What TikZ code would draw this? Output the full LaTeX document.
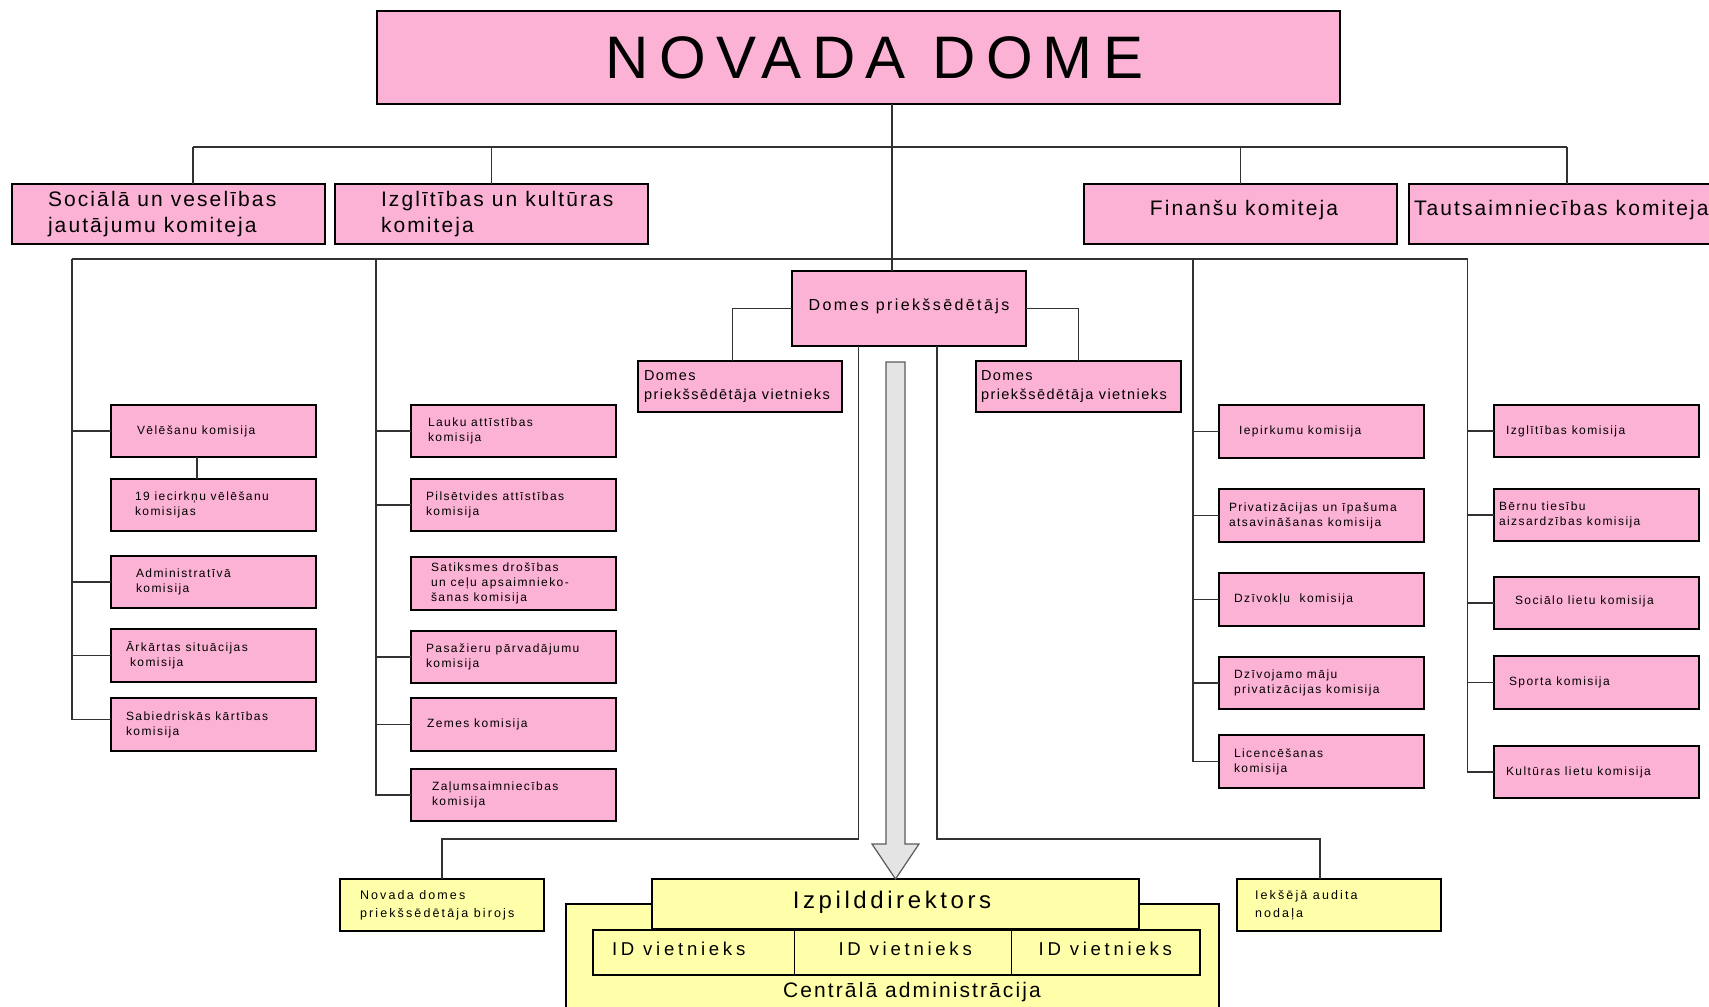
\documentclass[tikz,border=0pt]{standalone}
\usepackage{fontspec}
\setmainfont{Liberation Sans}
\newfontfamily\fTen[LetterSpace=10]{Liberation Sans}
\newfontfamily\fTwelve[LetterSpace=12]{Liberation Sans}
\newfontfamily\fFifteen[LetterSpace=15]{Liberation Sans}
\newfontfamily\fSeventeen[LetterSpace=17]{Liberation Sans}
\newfontfamily\fTwenty[LetterSpace=20]{Liberation Sans}
\definecolor{pinkc}{RGB}{252,178,212}
\definecolor{yelc}{RGB}{255,255,170}
\definecolor{linec}{RGB}{50,50,50}
\definecolor{arrfill}{RGB}{228,228,228}
\definecolor{arrline}{RGB}{90,90,90}
\tikzset{
  pinkbox/.style={draw=black, line width=0.8pt, fill=pinkc, outer sep=0pt, inner sep=0pt},
  yelbox/.style={draw=black, line width=0.8pt, fill=yelc, outer sep=0pt, inner sep=0pt},
  conn/.style={draw=linec, line width=0.6pt},
  arrowst/.style={draw=arrline, fill=arrfill, line width=0.6pt, line join=miter},
  txt/.style={inner sep=0pt, outer sep=0pt, align=left, text=black},
  tTitle/.style={font={\fSeventeen\fontsize{30}{35}\selectfont}},
  tCom/.style={font={\fTen\fontsize{10.5}{12.85}\selectfont}},
  tChair/.style={font={\fFifteen\fontsize{8}{10}\selectfont}},
  tVice/.style={font={\fTen\fontsize{7.25}{9.2}\selectfont}},
  tSmall/.style={font={\fTwelve\fontsize{6}{7.5}\selectfont}},
  tYel/.style={font={\fSeventeen\fontsize{6.25}{9.2}\selectfont}},
  tIzp/.style={font={\fFifteen\fontsize{12}{14}\selectfont}},
  tID/.style={font={\fTwenty\fontsize{9.3}{11}\selectfont}},
  tCentr/.style={font={\fTen\fontsize{10.5}{12}\selectfont}},
}
% box with left-aligned text: name, style, x1, y1, x2, y2, inset(px), text, text style
\newcommand\mkbox[9]{%
  \pgfmathsetmacro\mybw{(#5-#3)*0.5}%
  \pgfmathsetmacro\mybh{(#6-#4)*0.5}%
  \pgfmathsetmacro\mybi{#7*0.5}%
  \node[#2, anchor=north west, minimum width=\mybw pt, minimum height=\mybh pt] (#1) at (#3,#4) {};
  \node[txt, #9, anchor=west] (#1-t) at ([xshift=\mybi pt]#1.west) {#8};}
% box with centred text: name, style, x1, y1, x2, y2, shift, text, text style
\newcommand\mkcbox[9]{%
  \pgfmathsetmacro\mybw{(#5-#3)*0.5}%
  \pgfmathsetmacro\mybh{(#6-#4)*0.5}%
  \node[#2, anchor=north west, minimum width=\mybw pt, minimum height=\mybh pt] (#1) at (#3,#4) {};
  \node[txt, #9, align=center, anchor=center] (#1-t) at ([#7]#1.center) {#8};}
\begin{document}
\begin{tikzpicture}[x=0.5pt, y=-0.5pt]
\useasboundingbox (0,0) rectangle (1709,1007);
\clip (0,0) rectangle (1709,1007);

% ---------- coordinates for buses ----------
\coordinate (spine) at (892,147);
\coordinate (b1L) at (193,147);
\coordinate (b1R) at (1567,147);
\coordinate (b2a) at (72,259);
\coordinate (b2b) at (376,259);
\coordinate (b2c) at (1193,259);
\coordinate (b2d) at (1467.5,259);
\coordinate (dl) at (858.6,839);
\coordinate (dr) at (937,839);

% ---------- boxes ----------
\mkcbox{dome}{pinkbox}{377}{11}{1340}{104}{xshift=8pt,yshift=0pt}{NOVADA DOME}{tTitle}

\mkbox{c1}{pinkbox}{12}{184}{325}{244}{36}{Sociālā un veselības\\jautājumu komiteja}{tCom}
\mkbox{c2}{pinkbox}{335}{184}{648}{244}{46}{Izglītības un kultūras\\komiteja}{tCom}
\mkcbox{c3}{pinkbox}{1084}{184}{1397}{244}{xshift=1.75pt,yshift=2pt}{Finanšu komiteja}{tCom}
\mkbox{c4}{pinkbox}{1409}{184}{1760}{244}{5}{Tautsaimniecības komiteja}{tCom, yshift=2pt}

\mkcbox{pr}{pinkbox}{792}{271}{1026}{346}{xshift=0pt,yshift=1pt}{Domes priekšsēdētājs}{tChair}
\mkbox{vl}{pinkbox}{638}{361}{842}{412}{6}{Domes\\priekšsēdētāja vietnieks}{tVice}
\mkbox{vr}{pinkbox}{976}{361}{1181}{412}{5}{Domes\\priekšsēdētāja vietnieks}{tVice}

\mkbox{k11}{pinkbox}{111}{405}{316}{457}{26}{Vēlēšanu komisija}{tSmall}
\mkbox{k12}{pinkbox}{111}{479}{316}{531}{24}{19 iecirkņu vēlēšanu\\komisijas}{tSmall}
\mkbox{k13}{pinkbox}{111}{556}{316}{608}{25}{Administratīvā\\komisija}{tSmall}
\mkbox{k14}{pinkbox}{111}{629}{316}{682}{15}{Ārkārtas situācijas\\\hspace*{2pt}komisija}{tSmall}
\mkbox{k15}{pinkbox}{111}{698}{316}{751}{15}{Sabiedriskās kārtības\\komisija}{tSmall}

\mkbox{k21}{pinkbox}{411}{405}{616}{457}{17}{Lauku attīstības\\komisija}{tSmall}
\mkbox{k22}{pinkbox}{411}{479}{616}{531}{15}{Pilsētvides attīstības\\komisija}{tSmall}
\mkbox{k23}{pinkbox}{411}{557}{616}{610}{20}{Satiksmes drošības\\un ceļu apsaimnieko-\\šanas komisija}{tSmall}
\mkbox{k24}{pinkbox}{411}{631}{616}{683}{15}{Pasažieru pārvadājumu\\komisija}{tSmall}
\mkbox{k25}{pinkbox}{411}{698}{616}{751}{16}{Zemes komisija}{tSmall}
\mkbox{k26}{pinkbox}{411}{769}{616}{821}{21}{Zaļumsaimniecības\\komisija}{tSmall}

\mkbox{k31}{pinkbox}{1219}{405}{1424}{458}{20}{Iepirkumu komisija}{tSmall}
\mkbox{k32}{pinkbox}{1219}{489}{1424}{542}{10}{Privatizācijas un īpašuma\\atsavināšanas komisija}{tSmall}
\mkbox{k33}{pinkbox}{1219}{573}{1424}{626}{15}{Dzīvokļu\ \ komisija}{tSmall}
\mkbox{k34}{pinkbox}{1219}{657}{1424}{709}{15}{Dzīvojamo māju\\privatizācijas komisija}{tSmall}
\mkbox{k35}{pinkbox}{1219}{735}{1424}{788}{15}{Licencēšanas\\komisija}{tSmall}

\mkbox{k41}{pinkbox}{1494}{405}{1699}{457}{12}{Izglītības komisija}{tSmall}
\mkbox{k42}{pinkbox}{1494}{489}{1699}{541}{5}{Bērnu tiesību\\aizsardzības komisija}{tSmall}
\mkbox{k43}{pinkbox}{1494}{577}{1699}{629}{21}{Sociālo lietu komisija}{tSmall, yshift=1pt}
\mkbox{k44}{pinkbox}{1494}{656}{1699}{709}{15}{Sporta komisija}{tSmall}
\mkbox{k45}{pinkbox}{1494}{746}{1699}{798}{12}{Kultūras lietu komisija}{tSmall}

% ---------- connectors ----------
\draw[conn] (dome.south -| spine) -- (pr.north -| spine);
\draw[conn] (b1L) -- (b1R);
\draw[conn] (b1L) -- (b1L |- c1.north);
\draw[conn] (c2.north |- b1L) -- (c2.north);
\draw[conn] (c3.north |- b1L) -- (c3.north);
\draw[conn] (b1R) -- (b1R |- c4.north);
\draw[conn] (b2a) -- (b2d);
\draw[conn] (b2a) |- (k11.west);
\draw[conn] (b2a) |- (k13.west);
\draw[conn] (b2a) |- (k14.west);
\draw[conn] (b2a) |- ([yshift=2.5pt]k15.west);
\draw[conn] ([xshift=-8.25pt]k11.south) -- ([xshift=-8.25pt]k12.north);
\draw[conn] (b2b) |- (k21.west);
\draw[conn] (b2b) |- (k22.west);
\draw[conn] (b2b) |- (k24.west);
\draw[conn] (b2b) |- (k25.west);
\draw[conn] (b2b) |- (k26.west);
\draw[conn] (b2c) |- (k31.west);
\draw[conn] (b2c) |- (k32.west);
\draw[conn] (b2c) |- (k33.west);
\draw[conn] (b2c) |- (k34.west);
\draw[conn] (b2c) |- (k35.west);
\draw[conn] (b2d) |- (k41.west);
\draw[conn] (b2d) |- (k42.west);
\draw[conn] (b2d) |- (k43.west);
\draw[conn] (b2d) |- (k44.west);
\draw[conn] (b2d) |- (k45.west);
\draw[conn] (pr.west) -| ([xshift=-3.75pt]vl.north);
\draw[conn] (pr.east) -| (vr.north);

% ---------- bottom part ----------
\node[yelbox, anchor=north west, minimum width=326.5pt, minimum height=58pt] (ca) at (566,904) {};
\node[txt, tCentr] (ca-t) at (912,992) {Centrālā administrācija};
\mkcbox{izp}{yelbox}{652}{879}{1139}{929}{xshift=-1.75pt,yshift=1pt}{Izpilddirektors}{tIzp}
\mkbox{id1}{yelbox}{593}{930}{794.5}{975}{19}{ID vietnieks}{tID, yshift=2pt}
\mkbox{id2}{yelbox}{794.5}{930}{1011.6}{975}{44}{ID vietnieks}{tID, yshift=2pt}
\mkbox{id3}{yelbox}{1011.6}{930}{1200}{975}{27}{ID vietnieks}{tID, yshift=2pt}
\mkbox{bir}{yelbox}{340}{879}{544}{931}{20}{Novada domes\\priekšsēdētāja birojs}{tYel}
\mkbox{aud}{yelbox}{1237}{879}{1441}{931}{18}{Iekšējā audita\\nodaļa}{tYel}

\draw[conn] (pr.south -| dl) -- (dl) -| (bir.north);
\draw[conn] (pr.south -| dr) -- (dr) -| ([xshift=-9.5pt]aud.north);

% block arrow to Izpilddirektors
\draw[arrowst] (izp.north) -- ++(-23.5,-35) -- ++(14,0) -- ++(0,-482) -- ++(19,0) -- ++(0,482) -- ++(14,0) -- cycle;
\end{tikzpicture}
\end{document}
